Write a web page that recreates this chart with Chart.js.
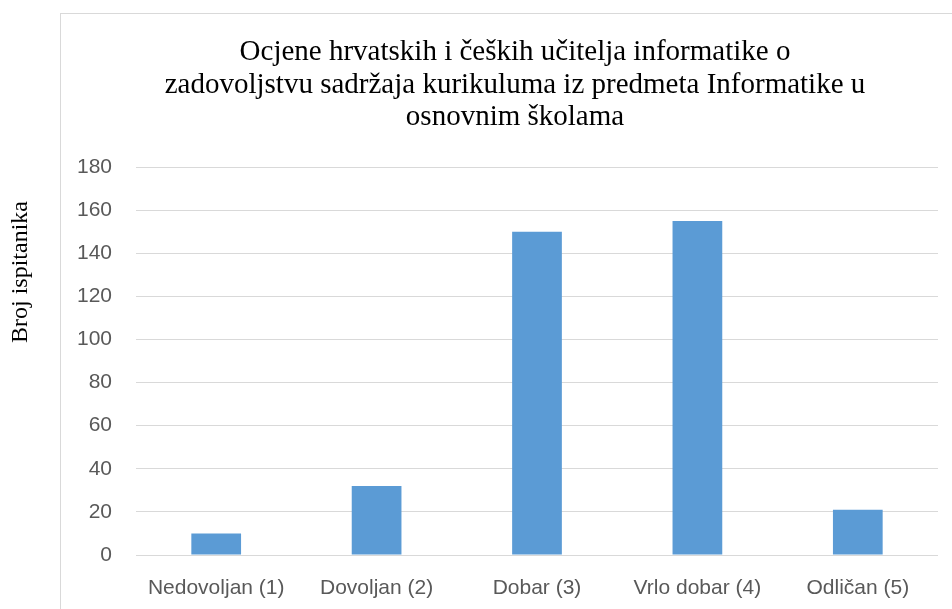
<!DOCTYPE html>
<html lang="hr">
<head>
  <meta charset="UTF-8" />
  <title>Ocjene kurikuluma</title>
  <script src="https://cdn.jsdelivr.net/npm/chart.js@4"></script>
  <style>
    html, body { margin: 0; padding: 0; background: #fff; }
    #wrap { width: 952px; height: 609px; position: relative; }
  </style>
</head>
<body>
  <div id="wrap"><canvas id="chart"></canvas></div>
  <script>
    const categories = ["Nedovoljan (1)", "Dovoljan (2)", "Dobar (3)", "Vrlo dobar (4)", "Odličan (5)"];
    const counts = [10, 32, 150, 155, 21];
    const titleLines = [
      "Ocjene hrvatskih i čeških učitelja informatike o",
      "zadovoljstvu sadržaja kurikuluma iz predmeta Informatike u",
      "osnovnim školama"
    ];
    const yTitle = "Broj ispitanika";

    // frame, title and axis title drawn the Excel way (title centred on the frame, not the plot)
    const decor = {
      id: "decor",
      beforeDraw(chart) {
        const c = chart.ctx;
        c.save();
        c.strokeStyle = "#d9d9d9";
        c.lineWidth = 1;
        c.strokeRect(60.5, 13.5, 1000, 1000);
        c.restore();
      },
      afterDraw(chart) {
        const c = chart.ctx;
        c.save();
        c.fillStyle = "#000";
        c.textAlign = "center";
        c.textBaseline = "alphabetic";
        c.font = "29px 'Liberation Serif'";
        titleLines.forEach((t, i) => c.fillText(t, 515, 60 + i * 32.5));
        c.translate(21, 272);
        c.rotate(-Math.PI / 2);
        c.textBaseline = "middle";
        c.font = "24px 'Liberation Serif'";
        c.fillText(yTitle, 0, 0);
        c.restore();
      }
    };

    new Chart(document.getElementById("chart"), {
      type: "bar",
      data: {
        labels: categories,
        datasets: [{
          data: counts,
          backgroundColor: "#5b9bd5",
          barPercentage: 1,
          categoryPercentage: 0.31
        }]
      },
      plugins: [decor],
      options: {
        responsive: true,
        maintainAspectRatio: false,
        animation: false,
        layout: { padding: { left: 0, right: 14, top: 167, bottom: 0 } },
        plugins: {
          legend: { display: false },
          tooltip: { enabled: false },
          title: { display: false }
        },
        scales: {
          x: {
            grid: { display: false },
            border: { display: false },
            ticks: {
              color: "#595959",
              font: { family: "Liberation Sans", size: 21 },
              padding: 13,
              maxRotation: 0
            },
            afterFit(s) { s.height = 54; }
          },
          y: {
            min: 0,
            max: 180,
            border: { display: false },
            grid: { color: "#d9d9d9", lineWidth: 1, drawTicks: false },
            ticks: {
              stepSize: 20,
              color: "#595959",
              font: { family: "Liberation Sans", size: 21 },
              padding: 24
            },
            afterFit(s) { s.width = 136; }
          }
        }
      }
    });
  </script>
</body>
</html>
